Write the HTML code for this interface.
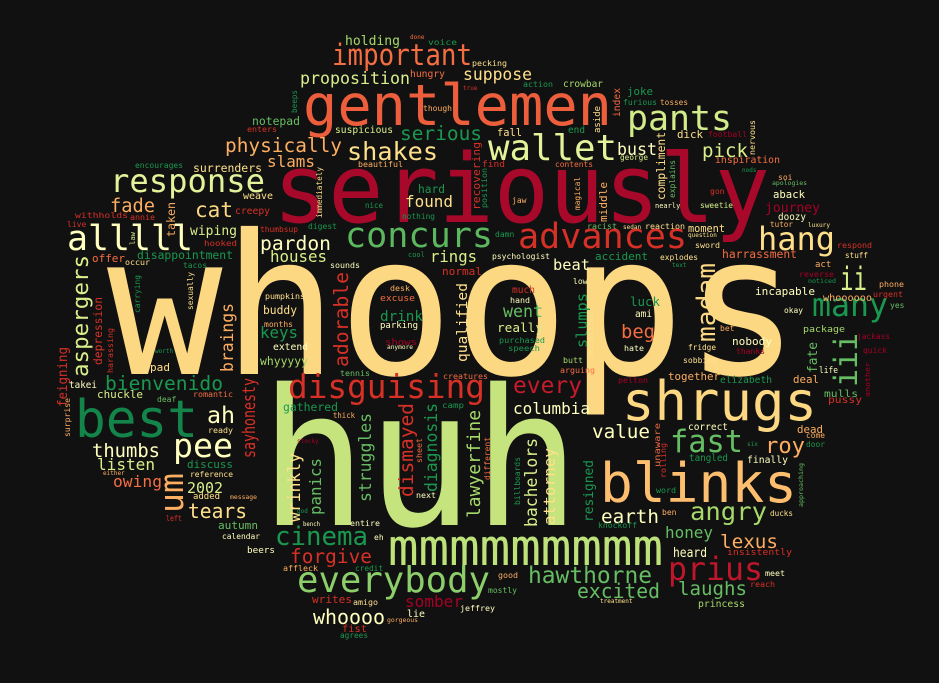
<!DOCTYPE html>
<html><head><meta charset="utf-8"><title>Word cloud</title>
<style>
html,body{margin:0;padding:0;background:#111111;}
svg{display:block;}
text{font-family:"DejaVu Sans Mono","Liberation Mono",monospace;}
</style></head>
<body>
<svg id="cloud" width="939" height="683" viewBox="0 0 939 683" xmlns="http://www.w3.org/2000/svg">
<rect x="0" y="0" width="939" height="683" fill="#111111"/>
<g id="words"></g>
</svg>
<script>
const R1="#a50026",R2="#d73027",O1="#f46d43",O2="#fdae61",Y1="#fee08b",Y2="#ffffbf",G1="#d9ef8b",G2="#a6d96a",G3="#66bd63",G4="#1a9850";
// [text, x, y(baseline), fontSize, colour, textLength(0=auto), vertical(1)]
const words=[
["whoops",107,374,195,"#fdd882",693,0],
["huh",260,525,190,"#c6e47e",320,0],
["seriously",273,222,95,"#a8082a",497,0],
["gentlemen",303,125,57,"#ed5f3c",309,0],
["best",75,437,52,"#14854a",123,0],
["shrugs",622,420,54,"#fdd882",195,0],
["blinks",600,502,54,"#fdbf6f",197,0],
["mmmmmmmmm",388,565,51,"#bde27a",275,0],
["everybody",297,592,36,"#8ccf6a",193,0],
["prius",668,580,32,"#c0162c",95,0],
["wallet",488,160,36,"#e3f39a",129,0],
["pants",627,130,35,"#d3ec8a",105,0],
["concurs",345,247,35,"#5cb85f",148,0],
["advances",518,248,35,R2,169,0],
["response",110,192,32,"#e3f39a",155,0],
["alllll",67,250,35,Y2,126,0],
["disguising",288,398,33,R2,197,0],
["hang",758,250,32,Y1,77,0],
["many",812,316,32,G4,76,0],
["ii",840,290,32,G1,27,0],
["iii",857,387,32,G3,54,1],
["important",332,65,29,O1,140,0],
["shakes",347,160,25,Y1,91,0],
["physically",225,152,19.5,O2,117,0],
["fast",670,452,31,G3,73,0],
["pee",173,457,33,Y2,60,0],
["ah",207,423,23,Y2,28,0],
["cat",195,217,21,"#fdd882",38,0],
["angry",690,520,25,G2,77,0],
["hawthorne",528,583,23,G3,124,0],
["cinema",275,545,26,G4,93,0],
["laughs",678,595,19,G3,69,0],
["excited",577,598,20,G3,83,0],
["forgive",290,563,19.5,R2,82,0],
["somber",405,607,16,R1,58,0],
["whoooo",313,624,20,Y2,72,0],
["thumbs",92,457,19,Y2,68,0],
["listen",97,470,16,G1,58,0],
["tears",188,518,20,Y1,59,0],
["owing",113,487,16,O1,49,0],
["2002",187,493,15,G1,36,0],
["lexus",720,548,19,O2,58,0],
["every",513,393,23,"#c51b2c",69,0],
["columbia",513,414,16,Y2,77,0],
["value",592,438,19,Y2,58,0],
["earth",601,523,19,Y2,58,0],
["honey",665,538,16,G3,48,0],
["heard",673,557,13,Y2,34,0],
["roy",765,453,22,O2,40,0],
["proposition",300,84,16.6,G1,110,0],
["suppose",463,80,16.4,Y1,69,0],
["holding",345,45,13,G2,55,0],
["serious",400,140,19.5,G4,82,0],
["slams",267,167,16,O2,48,0],
["pick",702,157,19,G1,46,0],
["bust",617,155,16.6,Y2,40,0],
["pardon",260,250,19.6,Y2,71,0],
["houses",270,262,15.8,G1,57,0],
["found",405,207,16,Y1,48,0],
["rings",430,262,15.6,G1,47,0],
["beat",553,270,15.4,Y2,37,0],
["fade",110,212,18.7,O2,45,0],
["wiping",190,235,13,G1,47,0],
["bienvenido",105,390,19.6,G4,118,0],
["chuckle",97,398,11,G1,46,0],
["um",183,513,33,O2,40,1],
["aspergers",88,377,22.5,G1,122,1],
["madam",715,342,26,"#fdd882",79,1],
["adorable",348,367,19.7,R2,95,1],
["dismayed",413,497,19.5,R2,94,1],
["sayhonesty",255,458,18,R2,80,1],
["struggles",371,502,16.4,G3,89,1],
["lawyerfine",480,518,18,G2,108,1],
["attorney",555,525,16,Y1,77,1],
["bachelors",537,527,16.4,G1,89,1],
["resigned",593,522,13,G4,62,1],
["qualified",467,362,14.5,Y1,79,1],
["wrinkly",300,522,16.4,Y1,69,1],
["panics",321,515,15.8,G3,57,1],
["braings",233,372,16.4,O2,69,1],
["diagnosis",437,492,16.4,G4,89,1],
["feigning",67,407,13,R2,60,1],
["slumps",587,348,15,G4,55,1],
["fate",817,373,13,G3,31,1],
["keys",260,338,15.8,G4,38,0],
["whyyyyy",260,365,11.4,G2,48,0],
["buddy",263,314,11.3,Y1,34,0],
["pumpkins",265,299,8.3,Y1,40,0],
["months",264,327,8,O2,29,0],
["extend",273,350,9.7,Y2,35,0],
["disappointment",137,259,11.4,G4,96,0],
["offer",92,262,11,O1,33,0],
["gathered",283,411,11.4,G4,55,0],
["went",503,317,16.6,G3,40,0],
["really",497,332,12.7,G1,46,0],
["drink",380,321,14.3,G4,43,0],
["beg",621,338,18.8,O1,34,0],
["luck",630,306,12.5,G4,30,0],
["normal",442,275,11,R2,40,0],
["nobody",732,345,11,Y2,40,0],
["incapable",755,295,11,Y2,60,0],
["harrassment",722,258,11.3,O1,75,0],
["together",668,380,10.8,O2,52,0],
["elizabeth",720,383,9.6,G4,52,0],
["finally",747,463,9.7,Y2,41,0],
["tangled",689,461,9.3,G4,39,0],
["correct",688,430,9.5,Y2,40,0],
["dead",797,433,10.8,O2,26,0],
["hungry",410,77,9.7,O1,35,0],
["pecking",472,66,8.3,Y1,35,0],
["surrenders",193,172,11.5,Y1,69,0],
["encourages",135,168,8,G4,48,0],
["notepad",252,125,11.4,G3,48,0],
["enters",247,132,8.3,R2,30,0],
["suspicious",335,133,9.6,G1,58,0],
["beautiful",358,167,8.3,O2,45,0],
["hard",418,193,11.2,G4,27,0],
["weave",243,199,10,Y1,30,0],
["creepy",235,214,9.7,R2,35,0],
["nice",365,208,7.5,G4,18,0],
["nothing",402,219,7.8,G4,33,0],
["recovering",480,210,11,R2,68,1],
["position",487,208,8.3,G4,40,1],
["immediately",322,218,7.7,Y1,51,1],
["taken",175,237,11.6,O2,35,1],
["beeps",297,113,7.6,G4,23,1],
["though",423,111,8,O2,29,0],
["fall",497,136,10.4,Y1,25,0],
["digest",308,229,8,G4,29,0],
["thumbsup",260,232,8,R2,38,0],
["joke",627,95,10.8,G4,26,0],
["furious",623,105,8,G4,34,0],
["tosses",660,105,7.8,O2,28,0],
["crowbar",563,87,9.5,G2,40,0],
["action",523,87,8.3,G4,30,0],
["end",568,133,9.4,G4,17,0],
["dick",677,138,10.8,Y1,26,0],
["football",708,137,8,R1,39,0],
["nervous",755,155,8.3,Y1,35,1],
["compliment",665,200,11.3,Y1,68,1],
["explains",675,198,8,G3,38,1],
["index",620,117,9.6,O1,29,1],
["aside",600,133,9,Y1,27,1],
["magical",580,210,7.8,O2,33,1],
["middle",607,222,11,O2,40,1],
["inspiration",715,163,9.8,O1,65,0],
["george",620,160,7.8,G1,28,0],
["contents",555,167,7.9,O1,38,0],
["aback",773,198,10.6,Y2,32,0],
["journey",765,212,13,R1,55,0],
["doozy",778,220,9.3,Y2,28,0],
["tutor",770,227,7.6,O2,23,0],
["sweetie",700,208,7.8,G1,33,0],
["racist",587,229,8.3,G3,30,0],
["reaction",645,229,8.3,Y1,40,0],
["moment",688,232,10.2,Y1,37,0],
["sword",695,248,8.3,Y1,25,0],
["respond",837,248,8.3,R2,35,0],
["stuff",845,258,7.6,Y1,23,0],
["explodes",660,260,8,Y1,38,0],
["accident",595,260,11,G4,53,0],
["psychologist",492,259,8,Y2,58,0],
["damn",495,237,8,G4,0,0],
["cool",408,257,7,G4,0,0],
["withholds",75,218,8,R2,53,0],
["annie",130,220,8.3,R2,25,0],
["live",67,227,8,R2,0,0],
["hooked",204,246,8.3,R2,33,0],
["occur",125,265,8.3,Y1,25,0],
["tacos",183,268,8,G4,24,0],
["carrying",140,313,8,G4,38,1],
["sexually",193,310,8,Y1,38,1],
["harassing",113,373,8,R2,45,1],
["surprise",70,437,8,O2,39,1],
["depression",102,365,11.3,R2,68,1],
["takei",69,388,9.3,Y2,28,0],
["pad",150,371,11,Y1,20,0],
["deaf",157,402,8,G3,0,0],
["romantic",193,397,8.3,O1,40,0],
["ready",208,433,8.3,Y1,25,0],
["discuss",187,468,11,G4,46,0],
["reference",190,477,8,Y1,43,0],
["added",193,499,9,Y1,27,0],
["message",230,499,6,O2,27,0],
["either",103,475,6,O2,0,0],
["thick",333,418,8,O2,22,0],
["tennis",340,376,8.3,G3,30,0],
["sounds",330,268,8.3,Y2,30,0],
["stocky",297,443,6,R1,0,0],
["worth",155,353,6,G4,0,0],
["excuse",380,301,9,O1,35,0],
["desk",390,291,8,O2,20,0],
["parking",380,328,9,Y2,38,0],
["shows",385,345,9,R1,32,0],
["anymore",387,349,6,Y2,26,0],
["creatures",443,379,8.3,O1,45,0],
["camp",442,408,8,G4,22,0],
["much",512,293,9.5,R2,23,0],
["hand",510,303,8,Y2,20,0],
["purchased",499,343,8.3,G4,46,0],
["speech",508,351,8.3,G4,32,0],
["low",573,284,8,Y2,0,0],
["butt",563,363,8.3,G2,20,0],
["arguing",560,373,8.3,O1,35,0],
["dormsized",593,357,8,Y1,45,1],
["next",416,498,8.3,Y2,20,0],
["different",490,480,8,O1,43,1],
["billboards",520,505,8,G4,48,1],
["sheet",422,463,8,O1,25,1],
["six",747,446,6,G4,0,0],
["pelton",618,383,8,R1,30,0],
["ami",635,317,10,Y2,17,0],
["hate",624,351,8.3,Y2,20,0],
["bet",720,331,8,O2,0,0],
["fridge",688,350,8,Y1,28,0],
["sobbing",683,363,8,Y1,34,0],
["thanks",736,354,8,R1,29,0],
["okay",784,313,8,Y2,19,0],
["package",803,332,9,G2,42,0],
["jackass",857,339,8,R1,33,0],
["quick",863,353,8.3,R1,24,0],
["another",870,397,7,R1,35,1],
["life",819,373,9,Y2,19,0],
["deal",793,383,11,O2,26,0],
["mulls",824,397,10,G3,34,0],
["pussy",828,403,10,R2,34,0],
["come",806,438,8,O2,19,0],
["door",806,447,8,G4,19,0],
["unaware",660,467,8,O1,44,1],
["rolling",666,478,8,R2,35,1],
["word",656,493,8.3,G4,20,0],
["ben",662,515,8,O2,0,0],
["approaching",803,507,6,G3,44,1],
["ducks",770,516,8,Y1,23,0],
["knockoff",598,528,8,G4,39,0],
["insistently",727,555,9,R2,65,0],
["meet",765,576,8,Y2,20,0],
["reach",750,587,8,R2,25,0],
["princess",698,607,9.3,G2,47,0],
["treatment",600,603,6,Y1,0,0],
["good",498,578,8,O2,20,0],
["mostly",488,593,8,G3,29,0],
["jeffrey",460,611,8.3,Y2,35,0],
["lie",407,617,10,Y2,18,0],
["writes",312,603,11,R2,40,0],
["amigo",353,605,8.3,Y1,25,0],
["fist",342,632,10,R2,25,0],
["agrees",340,638,8,G4,28,0],
["gorgeous",387,622,6,O2,31,0],
["affleck",283,571,8.3,O2,35,0],
["credit",355,571,8.3,G4,28,0],
["beers",247,553,9,Y2,28,0],
["calendar",222,539,8,Y2,38,0],
["autumn",218,529,11,G3,40,0],
["left",166,521,8,R2,16,0],
["entire",350,526,8,Y2,30,0],
["eh",374,540,8,Y2,0,0],
["bench",303,526,6,Y2,17,0],
["god",297,513,6,G4,0,0],
["voice",428,45,8,G4,29,0],
["done",410,39,6,O1,0,0],
["true",463,90,6,R2,0,0],
["law",135,245,7,G1,13,1],
["jaw",512,203,8,O2,0,0],
["find",482,167,9,R2,23,0],
["nods",742,172,6,G4,0,0],
["gon",710,194,8,R2,0,0],
["nearly",655,208,7,Y2,0,0],
["soi",778,180,8,O2,0,0],
["apologies",772,185,6,G3,35,0],
["luxury",808,227,6,Y1,22,0],
["sedan",623,229,6,Y1,0,0],
["question",688,237,6,Y1,0,0],
["text",672,267,6,G4,0,0],
["reverse",799,277,8,R1,35,0],
["noticed",808,283,6,G4,28,0],
["act",815,267,9,O2,0,0],
["whoooooo",823,301,9.3,O2,49,0],
["urgent",873,297,8,R2,30,0],
["phone",879,287,8,O2,25,0],
["yes",890,308,8,G3,0,0]
];
const NS="http://www.w3.org/2000/svg";
const g=document.getElementById('words');
for(const w of words){
  const t=document.createElementNS(NS,'text');
  
  
  t.setAttribute('x',w[1]);
  t.setAttribute('y',w[2]);
  t.setAttribute('font-size',w[3]);
  t.setAttribute('fill',w[4]);
  if(w[5]>0){t.setAttribute('textLength',w[5]);t.setAttribute('lengthAdjust','spacingAndGlyphs');}
  if(w[6]===1){t.setAttribute('transform','rotate(-90 '+w[1]+' '+w[2]+')');}
  t.textContent=w[0];
  g.appendChild(t);
}
</script>
</body></html>
